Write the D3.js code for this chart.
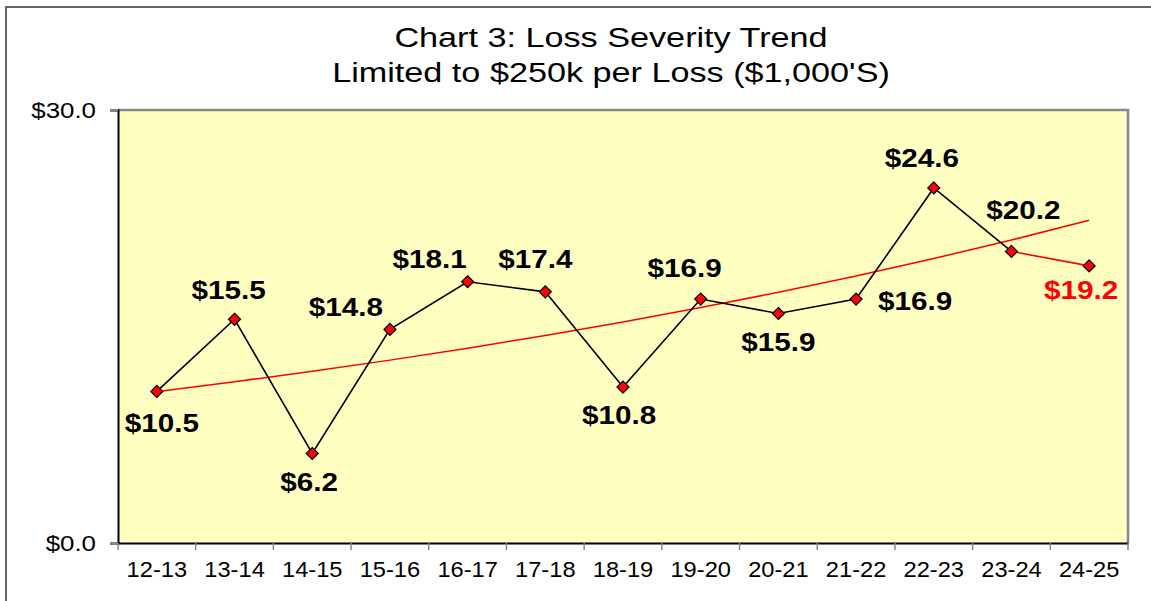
<!DOCTYPE html>
<html>
<head>
<meta charset="utf-8">
<script src="https://cdn.jsdelivr.net/npm/d3@7"></script>
<style>
  html, body { margin: 0; padding: 0; background: #fff; }
  svg { display: block; font-family: "Liberation Sans", Arial, sans-serif; }
</style>
</head>
<body>
<svg id="chart" width="1151" height="601"></svg>
<script>
// ---- data ----
const categories = ["12-13","13-14","14-15","15-16","16-17","17-18","18-19","19-20","20-21","21-22","22-23","23-24","24-25"];
const severity = [10.5, 15.5, 6.2, 14.8, 18.1, 17.4, 10.8, 16.9, 15.9, 16.9, 24.6, 20.2, 19.2];
const trend = [10.49, 11.17, 11.90, 12.67, 13.50, 14.38, 15.31, 16.31, 17.37, 18.50, 19.71, 20.99, 22.36];
const yTicks = [0, 30];
const titleLines = ["Chart 3: Loss Severity Trend", "Limited to $250k per Loss ($1,000'S)"];
// label offsets (styling): [dx, dy] from marker to label centre
const labelOffsets = [[5,31],[-6,-30],[-3,28],[-44,-23],[-38,-23],[-10,-33],[-4,27],[-16,-32],[0,28],[59,1],[-12,-30],[12,-42],[-8,24]];

const svg = d3.select("#chart");
const L = 118, R = 1128, T = 110, B = 543;

const x = d3.scalePoint().domain(categories).range([L, R]).padding(0.5);
const xb = d3.scaleBand().domain(categories).range([L, R]);
const y = d3.scaleLinear().domain([0, 30]).range([B, T]);

function stretchedText(g, tx, ty, txt, size, sx, anchor, weight, fill) {
  return g.append("text")
    .attr("transform", `translate(${tx},${ty}) scale(${sx},1)`)
    .attr("text-anchor", anchor)
    .attr("font-size", size)
    .attr("font-weight", weight)
    .attr("fill", fill)
    .text(txt);
}

// outer frame
svg.append("path").attr("d", "M6,601 L6,7 L1151,7").attr("fill", "none").attr("stroke", "#333").attr("stroke-width", 1.5);

// plot area
svg.append("rect").attr("x", L).attr("y", T).attr("width", R - L).attr("height", B - T).attr("fill", "#FFFFC2");
svg.append("path").attr("d", `M${L},${T} L${R},${T} L${R},${B}`).attr("fill", "none").attr("stroke", "#888").attr("stroke-width", 2.5);

// title
titleLines.forEach((t, i) => stretchedText(svg, 611, 47 + i * 35, t, 28.5, 1.2, "middle", "normal", "#000"));

// y axis
const yAxis = d3.axisLeft(y).tickValues(yTicks).tickSize(8).tickFormat(() => "");
const ya = svg.append("g").attr("transform", `translate(${L},0)`).call(yAxis);
ya.select(".domain").attr("stroke", "#000").attr("stroke-width", 2);
ya.selectAll(".tick line").attr("stroke", "#888").attr("stroke-width", 1.5);
yTicks.forEach(v => stretchedText(svg, 96, y(v) + 8, "$" + v.toFixed(1), 22.5, 1.15, "end", "normal", "#000"));

// x axis
const xAxis = d3.axisBottom(xb).tickSize(0).tickFormat(() => "");
const xa = svg.append("g").attr("transform", `translate(0,${B})`).call(xAxis);
xa.select(".domain").attr("stroke", "#000").attr("stroke-width", 2);
const boundaries = categories.map(c => xb(c)).concat([R]);
svg.append("g").selectAll("line").data(boundaries).join("line")
  .attr("x1", d => d).attr("x2", d => d).attr("y1", B).attr("y2", B + 7)
  .attr("stroke", "#888").attr("stroke-width", 1.5);
categories.forEach(c => stretchedText(svg, x(c), 577, c, 21.5, 1.1, "middle", "normal", "#000"));

// trend line
const trendLine = d3.line().x((d, i) => x(categories[i])).y(d => y(d)).curve(d3.curveMonotoneX);
svg.append("path").datum(trend).attr("d", trendLine).attr("fill", "none").attr("stroke", "#FF0000").attr("stroke-width", 1.5);

// main line (last segment red)
const pts = severity.map((v, i) => [x(categories[i]), y(v)]);
svg.append("path").attr("d", d3.line()(pts.slice(0, pts.length - 1))).attr("fill", "none").attr("stroke", "#000").attr("stroke-width", 1.6);
svg.append("path").attr("d", d3.line()(pts.slice(pts.length - 2))).attr("fill", "none").attr("stroke", "#FF0000").attr("stroke-width", 1.6);

// markers
svg.append("g").selectAll("path").data(severity).join("path")
  .attr("d", "M0,-6 L6,0 L0,6 L-6,0 Z")
  .attr("transform", (d, i) => `translate(${x(categories[i])},${y(d)})`)
  .attr("fill", "#FF0000").attr("stroke", "#000").attr("stroke-width", 1.2);

// data labels
const lg = svg.append("g");
severity.forEach((v, i) => {
  const [dx, dy] = labelOffsets[i];
  const last = i === severity.length - 1;
  stretchedText(lg, x(categories[i]) + dx, y(v) + dy + 9.5, "$" + v.toFixed(1), 26.5, 1.12, "middle", "bold", last ? "#FF0000" : "#000");
});
</script>
</body>
</html>
